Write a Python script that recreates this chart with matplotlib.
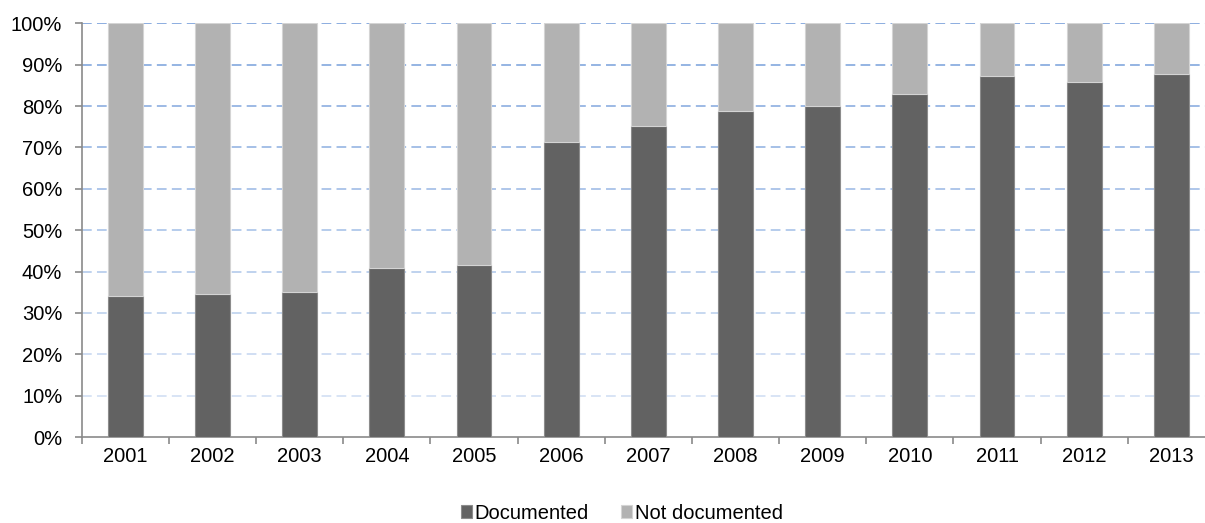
import matplotlib
matplotlib.use("Agg")
import matplotlib.pyplot as plt
import numpy as np
from matplotlib.ticker import FuncFormatter

plt.rcParams['font.family'] = ['Liberation Sans', 'DejaVu Sans']

years = ['2001', '2002', '2003', '2004', '2005', '2006', '2007',
         '2008', '2009', '2010', '2011', '2012', '2013']
documented = [34.2, 34.6, 35.1, 40.9, 41.6, 71.2, 75.3,
              78.9, 79.9, 82.8, 87.3, 85.9, 87.8]
not_documented = [100 - d for d in documented]

fig = plt.figure(figsize=(12.05, 5.23), dpi=100)
ax = fig.add_axes([0.0678, 0.1644, 0.9405, 0.791])

x = np.arange(len(years))
ax.bar(x, documented, width=0.40, color='#626262', edgecolor='#8c8c8c',
       linewidth=0.8, label='Documented', zorder=3)
ax.bar(x, not_documented, width=0.40, bottom=documented, color='#b2b2b2',
       edgecolor='#d4d4d4', linewidth=0.8, label='Not documented', zorder=3)

ax.set_xlim(-0.5, len(years) - 0.5)
ax.set_ylim(0, 100)
ax.set_yticks(np.arange(0, 101, 10))
ax.yaxis.set_major_formatter(FuncFormatter(lambda v, _: f'{int(v)}%'))
ax.set_xticks(np.arange(-0.5, len(years), 1.0), minor=False)
ax.set_xticklabels([])
ax.set_xticks(x, minor=True)
ax.set_xticklabels(years, minor=True)

# dashed gridlines fading from pale at the bottom to stronger blue at the top
low = np.array([0.88, 0.92, 0.97])
high = np.array([0.55, 0.68, 0.88])
for v in range(10, 101, 10):
    t = v / 100.0
    col = low + (high - low) * t
    ax.axhline(v, color=col, linewidth=1.4, dashes=(5.0, 2.7), zorder=1)

for s in ['top', 'right']:
    ax.spines[s].set_visible(False)
for s in ['left', 'bottom']:
    ax.spines[s].set_color('#8a8a8a')
    ax.spines[s].set_linewidth(1.2)

ax.tick_params(axis='y', which='major', length=5, width=1.2, color='#8a8a8a',
               pad=9, labelsize=14.5, labelcolor='black')
ax.tick_params(axis='x', which='major', length=5, width=1.2, color='#8a8a8a')
ax.tick_params(axis='x', which='minor', length=0, pad=7, labelsize=14.5,
               labelcolor='black')

leg = fig.legend(loc='center', bbox_to_anchor=(0.516, 0.019), ncol=2,
                 frameon=False, fontsize=14.5, handlelength=0.55,
                 handleheight=0.55, handletextpad=0.12, columnspacing=1.6)

fig.savefig('out.png', dpi=100)
